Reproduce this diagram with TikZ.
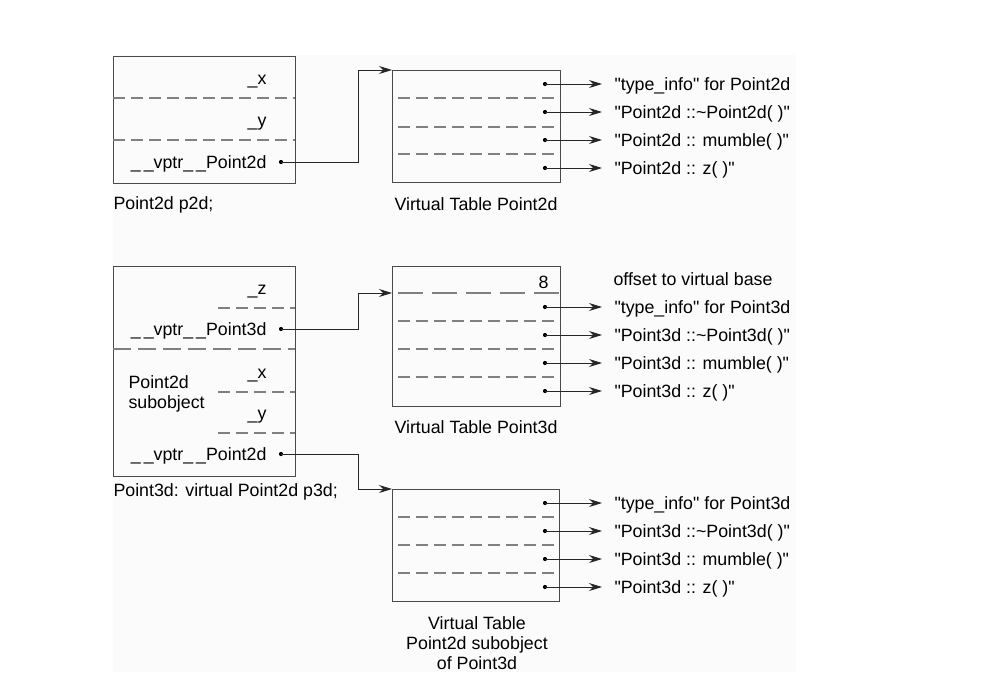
\documentclass[tikz,border=0pt]{standalone}
\usepackage{fontspec}
\setmainfont{Liberation Sans}
\usepackage{tikz}
\usetikzlibrary{arrows.meta}
\definecolor{boxgray}{HTML}{4A4A4A}
\definecolor{dashgray}{HTML}{808080}

\begin{document}
\begin{tikzpicture}[x=1pt, y=-1pt, line width=1pt,
  lbl/.style={inner sep=0pt, text height=13pt, text depth=0pt, font=\fontsize{17.8}{20}\selectfont},
  membox/.style={draw=boxgray, line width=1.2pt, anchor=north west, inner sep=0pt},
  sep/.style={dashgray, line width=1.3pt, dash pattern=on 12pt off 6pt},
  longsep/.style={dashgray, line width=1.3pt, dash pattern=on 18pt off 7pt},
  ptr/.style={black!85, line width=1pt, -{Stealth[length=13pt, width=8pt]}},
  slot/.style={circle, fill=black, inner sep=0pt, minimum size=4.2pt},
  entry/.style={lbl, anchor=west, inner xsep=12pt}]
  \useasboundingbox (0,0) rectangle (1007,697);
  \fill[black!1.5] (113,55) rectangle (796,672);
  % Point2d p2d
  \node[membox, minimum width=182pt, minimum height=127pt] (p2d) at (113,56) {};
  \draw[sep] (113,98) -- (295,98);
  \draw[sep] (113,140) -- (295,140);
  \node[lbl, anchor=east] (p2dx) at (267,78) {\_x};
  \node[lbl, anchor=east] (p2dy) at (267,120) {\_y};
  \node[lbl, anchor=east] (p2dvptr) at (267,162) {\_\,\_vptr\_\,\_Point2d};
  \node[slot] (p2ddot) at (281,162) {};
  \node[lbl, anchor=west] (p2dname) at (113,203) {Point2d p2d;};
  % Virtual Table Point2d
  \node[membox, minimum width=168pt, minimum height=112pt] (vtbltwo) at (392,70) {};
  \foreach \y in {98,127,154}{\draw[sep] (398,\y) -- (560,\y);}
  \foreach \y/\txt [count=\i] in {84/\textquotedbl type\_info\textquotedbl{} for Point2d, 112/\textquotedbl Point2d ::\textasciitilde Point2d( )\textquotedbl, 140/\textquotedbl Point2d :: mumble( )\textquotedbl, 168/\textquotedbl Point2d :: z( )\textquotedbl}{
    \node[slot] (vtwodot\i) at (545,\y) {};
    \node[entry] (vtwotxt\i) at (602,\y) {\txt};
    \draw[ptr] (vtwodot\i.center) -- (vtwotxt\i.west);
  }
  \node[lbl] (vtbltwoname) at (476,204) {Virtual Table Point2d};
  \draw[ptr] (p2ddot.center) -- (358,162) |- (vtbltwo.north west);
  % Point3d p3d
  \node[membox, minimum width=182pt, minimum height=210pt] (p3d) at (113,266) {};
  \foreach \y in {308,392,433}{\draw[sep] (218,\y) -- (295,\y);}
  \draw[longsep] (113,349) -- (295,349);
  \node[lbl, anchor=east] (p3dz) at (267,288) {\_z};
  \node[lbl, anchor=east] (p3dvptr) at (267,329) {\_\,\_vptr\_\,\_Point3d};
  \node[slot] (p3ddot) at (281,329) {};
  \node[lbl, anchor=west] (subname) at (128,382) {Point2d};
  \node[lbl, anchor=west] (subname2) at (128,402) {subobject};
  \node[lbl, anchor=east] (p3dx) at (267,372) {\_x};
  \node[lbl, anchor=east] (p3dy) at (267,413) {\_y};
  \node[lbl, anchor=east] (p3dsubvptr) at (267,454) {\_\,\_vptr\_\,\_Point2d};
  \node[slot] (p3dsubdot) at (281,454) {};
  \node[lbl, anchor=west] (p3dname) at (113,490) {Point3d: virtual Point2d p3d;};
  % Virtual Table Point3d
  \node[membox, minimum width=168pt, minimum height=140pt] (vtblthree) at (392,266) {};
  \coordinate (vthreeentry) at (392,293);
  \draw[dashgray, line width=1.3pt, dash pattern=on 25pt off 9pt] (398,293) -- (560,293);
  \foreach \y in {321,349,377}{\draw[sep] (398,\y) -- (560,\y);}
  \node[lbl, anchor=east] (voffset) at (549,282) {8};
  \node[lbl, anchor=west] (voffsettxt) at (613,279) {offset to virtual base};
  \foreach \y/\txt [count=\i] in {307/\textquotedbl type\_info\textquotedbl{} for Point3d, 335/\textquotedbl Point3d ::\textasciitilde Point3d( )\textquotedbl, 363/\textquotedbl Point3d :: mumble( )\textquotedbl, 391/\textquotedbl Point3d :: z( )\textquotedbl}{
    \node[slot] (vthreedot\i) at (545,\y) {};
    \node[entry] (vthreetxt\i) at (602,\y) {\txt};
    \draw[ptr] (vthreedot\i.center) -- (vthreetxt\i.west);
  }
  \node[lbl] (vtblthreename) at (476,427) {Virtual Table Point3d};
  \draw[ptr] (p3ddot.center) -- (358,329) |- (vthreeentry);
  % Virtual Table Point2d subobject of Point3d
  \node[membox, minimum width=167pt, minimum height=112pt] (vtblsub) at (392,489) {};
  \foreach \y in {517,545,573}{\draw[sep] (398,\y) -- (559,\y);}
  \foreach \y/\txt [count=\i] in {503/\textquotedbl type\_info\textquotedbl{} for Point3d, 531/\textquotedbl Point3d ::\textasciitilde Point3d( )\textquotedbl, 559/\textquotedbl Point3d :: mumble( )\textquotedbl, 587/\textquotedbl Point3d :: z( )\textquotedbl}{
    \node[slot] (vsubdot\i) at (545,\y) {};
    \node[entry] (vsubtxt\i) at (602,\y) {\txt};
    \draw[ptr] (vsubdot\i.center) -- (vsubtxt\i.west);
  }
  \node[lbl] (vtblsubname1) at (477,623) {Virtual Table};
  \node[lbl] (vtblsubname2) at (477,643) {Point2d subobject};
  \node[lbl] (vtblsubname3) at (477,663) {of Point3d};
  \draw[ptr] (p3dsubdot.center) -- (358,454) |- (vtblsub.north west);
\end{tikzpicture}
\end{document}
